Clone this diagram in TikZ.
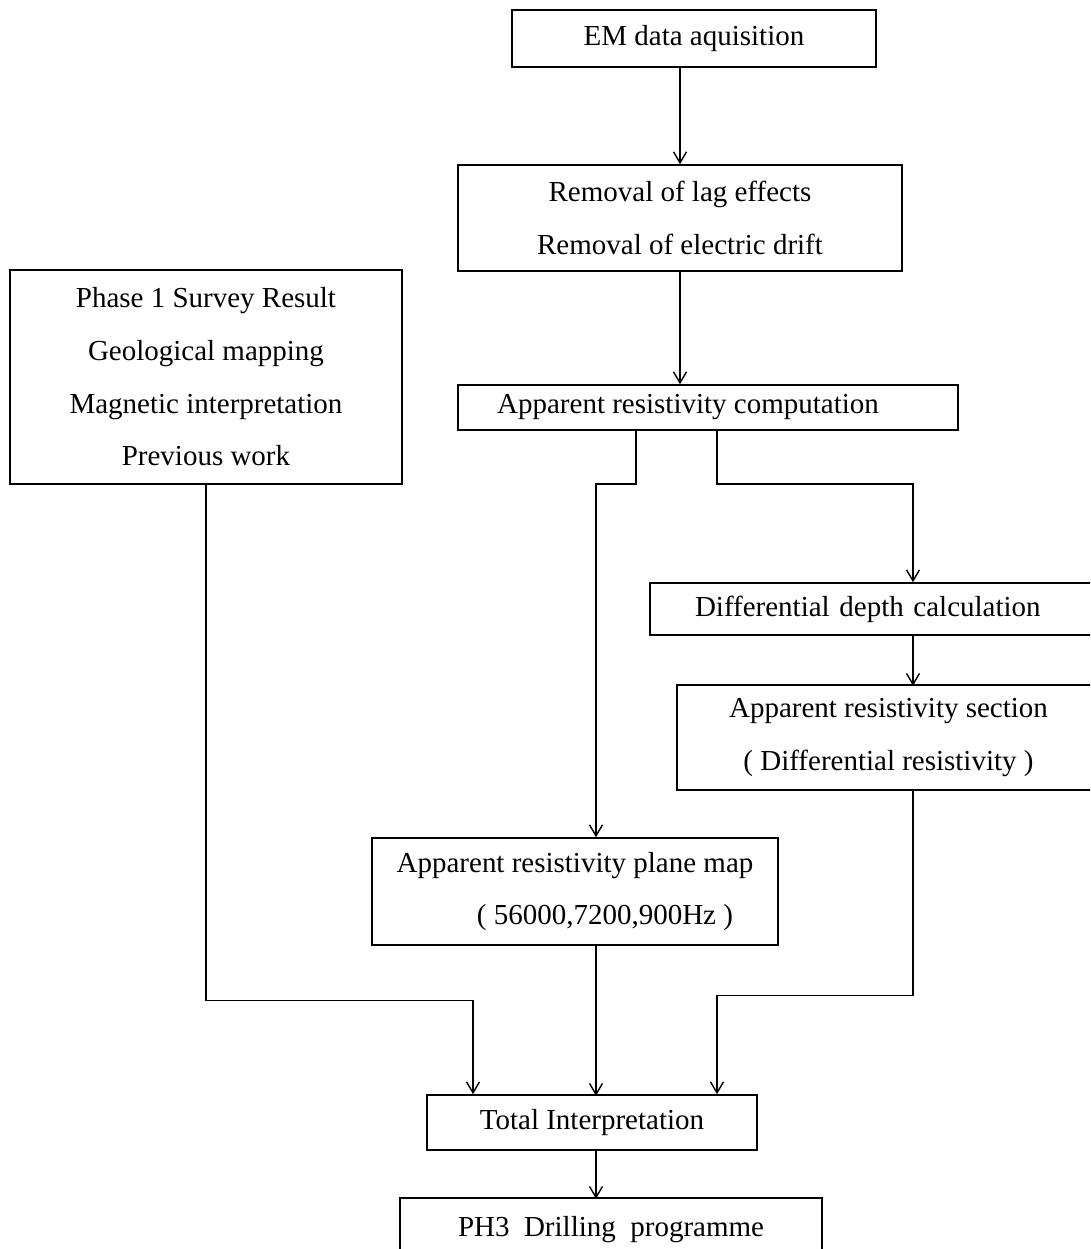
\documentclass[tikz,border=0pt]{standalone}
\usepackage{fontspec}
\setmainfont{Liberation Serif}
\usetikzlibrary{arrows.meta}

\tikzset{
  procbox/.style={draw, line width=0.9pt, inner sep=2pt, align=center,
    font=\fontsize{16.5}{30}\selectfont},
  flow/.style={line width=0.8pt,
    -{Straight Barb[length=2.2mm,width=2.6mm,line width=0.8pt]}}
}

\begin{document}
\begin{tikzpicture}[x=0.02cm, y=-0.02cm]
    \useasboundingbox (0,0) rectangle (1090,1249);
    \clip (0,0) rectangle (1090,1249);

    % Main processing chain
    \node[procbox, minimum width=7.28cm, minimum height=1.14cm] (em) at (694,38.5) {EM data aquisition};
    \node[procbox, minimum width=8.88cm, minimum height=2.12cm] (removal) at (680,218)
        {Removal of lag effects\\Removal of electric drift};
    \node[procbox, minimum width=10cm, minimum height=0.9cm] (arc) at (708,407.5)
        {Apparent resistivity computation\hspace*{0.8cm}};

    % Phase 1 results
    \node[procbox, minimum width=7.84cm, minimum height=4.28cm] (phase) at (206,377)
        {Phase 1 Survey Result\\Geological mapping\\Magnetic interpretation\\Previous work};

    % Right branch
    \node[procbox, minimum height=1.04cm, text width=7.2cm, align=left, inner xsep=0.9cm] (depth) at (875,609)
        {Differential depth calculation};
    \node[procbox, minimum width=8.46cm, minimum height=2.1cm] (section) at (888.5,737.5)
        {Apparent resistivity section\\( Differential resistivity )};

    % Left branch
    \node[procbox, minimum width=8.12cm, minimum height=2.14cm] (plane) at (575,891.5)
        {Apparent resistivity plane map\\\hspace*{1.2cm}( 56000,7200,900Hz )};

    % Results
    \node[procbox, minimum width=6.6cm, minimum height=1.1cm] (total) at (592,1122.5) {Total Interpretation};
    \node[procbox, minimum width=8.44cm, minimum height=1.28cm] (ph3) at (611,1230) {PH3~~Drilling~~programme};

    % Connections
    \draw[flow] (removal.north |- em.south) -- (removal.north);
    \draw[flow] (removal.south) -- (removal.south |- arc.north);
    \draw[flow] ([xshift=-1.44cm]arc.south) -- ++(0,53) -| ([xshift=0.42cm]plane.north);
    \draw[flow] ([xshift=0.18cm]arc.south) -- ++(0,53) -| ([xshift=0.76cm]depth.north);
    \draw[flow] ([xshift=0.76cm]depth.south) -- ++(0,50);
    \draw[flow] ([xshift=0.49cm]section.south) -- ++(0,205) -| ([xshift=2.5cm]total.north);
    \draw[flow] ([xshift=0.42cm]plane.south) -- ++(0,150);
    \draw[flow] (phase.south) -- ++(0,516) -| ([xshift=-2.38cm]total.north);
    \draw[flow] ([xshift=0.08cm]total.south) -- ++(0,48);

\end{tikzpicture}
\end{document}
